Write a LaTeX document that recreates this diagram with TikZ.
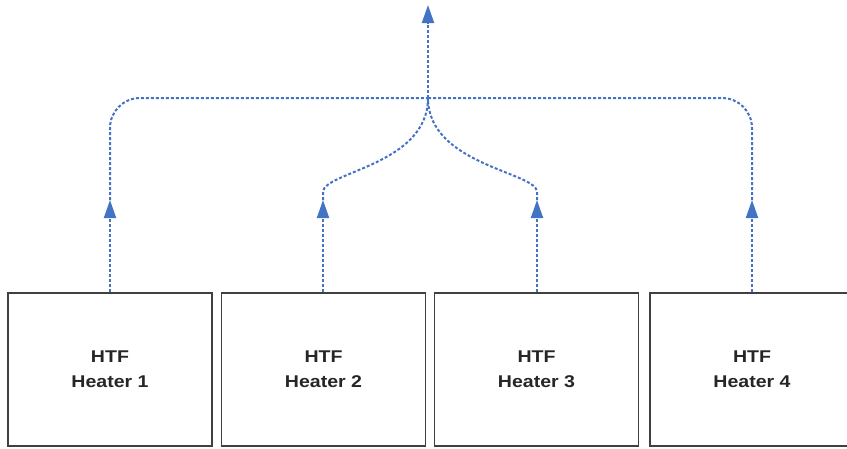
\documentclass[tikz,border=0pt]{standalone}
\usepackage{graphicx}
\usepackage{fontspec}
\setmainfont{Liberation Sans}
\usetikzlibrary{arrows.meta}
\definecolor{flowblue}{HTML}{4472C4}
\newcommand{\widetxt}[1]{\scalebox{1.15}[1]{#1}}
\begin{document}
\begin{tikzpicture}[x=1pt,y=1pt]
    \useasboundingbox (0,0) rectangle (847,-448);
    \begin{scope}
        \tikzstyle{every node}=[draw=black!75, line width=1.2pt, rectangle, minimum width=204pt, minimum height=153pt, inner sep=0pt, align=center, text=black!85, font=\bfseries\fontsize{17}{25}\selectfont]
        \node (h1) at (110,-369.5) {\widetxt{HTF}\\\widetxt{Heater 1}};
        \node (h2) at (323.5,-369.5) {\widetxt{HTF}\\\widetxt{Heater 2}};
        \node (h3) at (536.5,-369.5) {\widetxt{HTF}\\\widetxt{Heater 3}};
        \node (h4) at (752,-369.5) {\widetxt{HTF}\\\widetxt{Heater 4}};
    \end{scope}
    \coordinate (t1) at (110,-200);
    \coordinate (t2) at (323,-200);
    \coordinate (t3) at (537,-200);
    \coordinate (t4) at (752,-200);
    \coordinate (j) at (428,-98);
    \coordinate (top) at (428,-5);
    \begin{scope}
        \tikzstyle{every edge}=[draw, flowblue, line width=2pt, dash pattern=on 3pt off 2pt, -{Triangle[length=18pt,width=12pt]}]
        \path
        (t1 |- h1.north) edge (t1)
        (t2 |- h2.north) edge (t2)
        (t3 |- h3.north) edge (t3)
        (t4 |- h4.north) edge (t4)
        (j) edge (top);
    \end{scope}
    \begin{scope}[flowblue, line width=2pt, dash pattern=on 3pt off 2pt]
        \draw[rounded corners=30pt] (t1) |- (j);
        \draw[rounded corners=30pt] (t4) |- (j);
        \draw (t2) -- ++(0,8) .. controls (323,-172) and (428,-165) .. (j);
        \draw (t3) -- ++(0,8) .. controls (537,-172) and (428,-165) .. (j);
    \end{scope}
\end{tikzpicture}
\end{document}
